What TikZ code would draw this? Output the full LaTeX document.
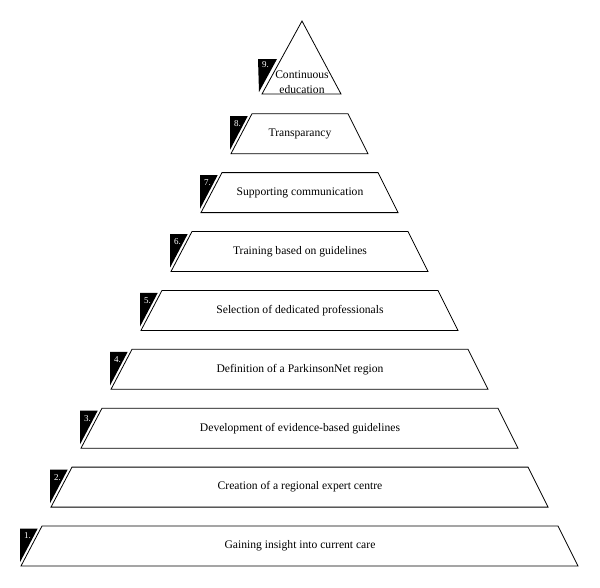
\documentclass[tikz,border=0pt]{standalone}
\usepackage{fontspec}
\setmainfont{Liberation Serif}
\begin{document}
\begin{tikzpicture}[x=1pt,y=-1pt,
  lvl/.style={draw=black,line width=0.8pt,fill=white,line join=miter},
  tab/.style={fill=black},
  num/.style={text=white,font=\fontsize{9}{10}\selectfont,inner sep=0pt},
  lbl/.style={font=\fontsize{11.6}{13}\selectfont,inner sep=0pt,align=center}]
\useasboundingbox (0,0) rectangle (600,587);
\foreach \k/\t in {1/Gaining insight into current care,
                   2/Creation of a regional expert centre,
                   3/Development of evidence-based guidelines,
                   4/Definition of a ParkinsonNet region,
                   5/Selection of dedicated professionals,
                   6/Training based on guidelines,
                   7/Supporting communication,
                   8/Transparancy} {
  \pgfmathsetmacro\yt{526-(\k-1)*58.9}
  \pgfmathsetmacro\yb{\yt+40}
  \pgfmathsetmacro\xtl{42+30*(\k-1)}
  \pgfmathsetmacro\xbl{21+30*(\k-1)}
  \pgfmathsetmacro\xtr{558-30*(\k-1)}
  \pgfmathsetmacro\xbr{578-30*(\k-1)}
  \pgfmathsetmacro\ya{\yt+2.5}
  \pgfmathsetmacro\xa{\xtl-4.3}
  \pgfmathsetmacro\xc{\xbl-1}
  \pgfmathsetmacro\yc{\yt+36.2}
  \pgfmathsetmacro\ym{\yt+20}
  \draw[lvl] (\xtl,\yt) -- (\xtr,\yt) -- (\xbr,\yb) -- (\xbl,\yb) -- cycle;
  \fill[tab] (\xc,\ya) -- (\xa,\ya) -- (\xc,\yc) -- cycle;
  \node[num] (n\k) at (\xbl+6.5,\yt+10) {\k.};
  \node[lbl] (t\k) at (300,\ym) {\t};
}
\draw[lvl] (302,21) -- (341,94) -- (262,94) -- cycle;
\fill[tab] (258,59) -- (277,59) -- (259,92) -- cycle;
\node[num] (n9) at (265.5,65) {9.};
\node[lbl] (t9) at (302,75) {Continuous};
\node[lbl] (t9b) at (302,90) {education};
\end{tikzpicture}
\end{document}
